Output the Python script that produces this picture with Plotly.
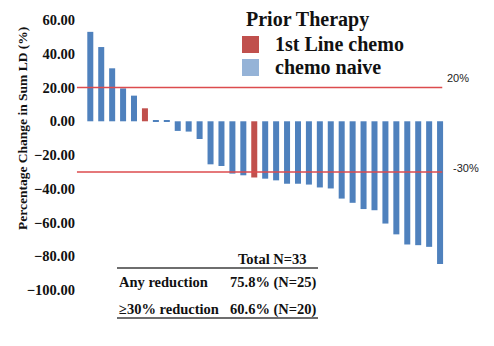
import plotly.graph_objects as go

# Best percentage change in sum of longest diameters, one bar per patient
patients = list(range(1, 34))
pct_change = [53, 44, 31.4, 19.5, 15.2, 7.7, 0.6, 0.6, -5.7, -6.1, -10.5,
              -25.5, -26.5, -31, -32, -33.3, -34, -35, -37, -37, -37.5,
              -39.2, -39.8, -45.8, -48.3, -52, -52.7, -60.6, -67, -73,
              -73.4, -74.4, -84.6]
prior_therapy = ["naive"] * 5 + ["1st"] + ["naive"] * 9 + ["1st"] + ["naive"] * 17

legend_title = "Prior Therapy"
group_labels = {"1st": "1st Line chemo", "naive": "chemo naive"}
bar_colors = {"1st": "#C0504D", "naive": "#4F81BD"}
swatch_colors = {"1st": "#C0504D", "naive": "#95B3D7"}

thresholds = [20, -30]
threshold_labels = ["20%", "-30%"]
y_ticks = [60, 40, 20, 0, -20, -40, -60, -80, -100]

# Summary table figures computed from the bar values
n_total = len(pct_change)
n_any = sum(1 for v in pct_change if v < 0)
n_30 = sum(1 for v in pct_change if v <= -30)

W, H = 494, 346
L, R, T, B = 76, 451, 17, 299
SERIF = "Liberation Serif"
SANS = "Liberation Sans"


def xp(px):
    return (px - L) / (R - L)


def yp(py):
    return (B - py) / (B - T)


fig = go.Figure()
for key in ["1st", "naive"]:
    xs = [p for p, g in zip(patients, prior_therapy) if g == key]
    ys = [v for v, g in zip(pct_change, prior_therapy) if g == key]
    fig.add_trace(go.Bar(x=xs, y=ys, name=group_labels[key], width=0.55,
                         marker=dict(color=bar_colors[key], line=dict(width=0)),
                         showlegend=False))

shapes = []
annotations = []

# Threshold reference lines
for val in thresholds:
    shapes.append(dict(type="line", xref="x", yref="y", x0=-0.22, x1=33.2,
                       y0=val, y1=val, line=dict(color="#DC4B4E", width=1.5)))
annotations.append(dict(text=threshold_labels[0], xref="paper", yref="paper",
                        x=xp(445), y=yp(78), xanchor="left", yanchor="middle",
                        showarrow=False, font=dict(family=SANS, size=11, color="#222")))
annotations.append(dict(text=threshold_labels[1], xref="paper", yref="paper",
                        x=xp(451), y=yp(168), xanchor="left", yanchor="middle",
                        showarrow=False, font=dict(family=SANS, size=11, color="#222")))

# Y axis title
annotations.append(dict(text="Percentage Change in Sum LD (%)", xref="paper", yref="paper",
                        x=xp(22), y=yp(129), xanchor="center", yanchor="middle",
                        textangle=-90, showarrow=False,
                        font=dict(family=SERIF, size=13.5, color="#111", weight="bold")))

# Legend block
annotations.append(dict(text=legend_title, xref="paper", yref="paper",
                        x=xp(244), y=yp(20), xanchor="left", yanchor="middle",
                        showarrow=False,
                        font=dict(family=SERIF, size=20, color="#111", weight="bold")))
for key, top, cy in [("1st", 36, 44), ("naive", 59, 67)]:
    shapes.append(dict(type="rect", xref="paper", yref="paper",
                       x0=xp(242), x1=xp(259), y0=yp(top), y1=yp(top + 17),
                       fillcolor=swatch_colors[key], line=dict(width=0)))
    annotations.append(dict(text=group_labels[key], xref="paper", yref="paper",
                            x=xp(273), y=yp(cy), xanchor="left", yanchor="middle",
                            showarrow=False,
                            font=dict(family=SERIF, size=20, color="#111", weight="bold")))

# Summary table
tfont = dict(family=SERIF, size=14.5, color="#111", weight="bold")
annotations.append(dict(text=f"Total N={n_total}", xref="paper", yref="paper",
                        x=xp(272), y=yp(259), xanchor="center", yanchor="middle",
                        showarrow=False, font=tfont))
rows = [("Any reduction", n_any, 282), ("\u226530% reduction", n_30, 309)]
for label, n, cy in rows:
    annotations.append(dict(text=label, xref="paper", yref="paper",
                            x=xp(117), y=yp(cy), xanchor="left", yanchor="middle",
                            showarrow=False, font=tfont))
    annotations.append(dict(text=f"{100 * n / n_total:.1f}% (N={n})", xref="paper",
                            yref="paper", x=xp(319), y=yp(cy), xanchor="right",
                            yanchor="middle", showarrow=False, font=tfont))
for ly in [268, 318]:
    shapes.append(dict(type="line", xref="paper", yref="paper",
                       x0=xp(117), x1=xp(318), y0=yp(ly), y1=yp(ly),
                       line=dict(color="#6E6E6E", width=2)))

fig.update_layout(
    width=W, height=H,
    margin=dict(l=L, r=W - R, t=T, b=H - B, pad=0),
    paper_bgcolor="white", plot_bgcolor="white",
    barmode="overlay",
    shapes=shapes, annotations=annotations,
    xaxis=dict(range=[-0.308, 34.0], showticklabels=False, showgrid=False,
               zeroline=False, showline=False, ticks=""),
    yaxis=dict(range=[-105.3, 61.8], tickvals=y_ticks, tickformat=".2f",
               showgrid=False, zeroline=False, showline=False, ticks="",
               tickfont=dict(family=SERIF, size=14.5, color="#111", weight="bold")),
)

fig.write_html("out.html")
